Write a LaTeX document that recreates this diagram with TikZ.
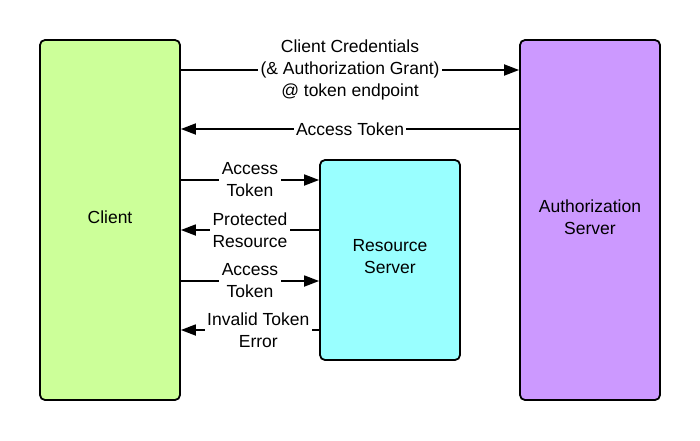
\documentclass[tikz,border=0pt]{standalone}
\usepackage{fontspec}
\setmainfont{Liberation Sans}
\usetikzlibrary{arrows.meta}
\definecolor{clientgreen}{HTML}{CCFF99}
\definecolor{authpurple}{HTML}{CC99FF}
\definecolor{resourcecyan}{HTML}{99FFFF}
\begin{document}
\begin{tikzpicture}[x=1pt,y=-1pt,
  every node/.style={font=\fontsize{17.5}{22}\selectfont},
  party/.style={draw=black,line width=1.8pt,rounded corners=5pt,align=center,inner sep=0pt},
  msg/.style={line width=1.8pt,-{Triangle[length=15pt,width=11pt]}},
  lbl/.style={fill=white,inner sep=2.5pt,align=center}]
\useasboundingbox (0,0) rectangle (700,440);

% the three parties
\node[party,fill=clientgreen,minimum width=140pt,minimum height=360pt] (client) at (110,220) {};
\node[party,fill=authpurple,minimum width=140pt,minimum height=360pt] (auth) at (590,220) {};
\node[party,fill=resourcecyan,minimum width=140pt,minimum height=200pt] (rs) at (390,260) {};
\node[align=center] (clientname) at (110,217) {Client};
\node[align=center] (authname) at (590,217) {Authorization\\Server};
\node[align=center] (rsname) at (390,257) {Resource\\Server};

% token endpoint exchange
\draw[msg] (client.east |- 0,70) -- node[lbl] {Client Credentials\\(\& Authorization Grant)\\@ token endpoint} (auth.west |- 0,70);
\draw[msg] (auth.west |- 0,129) -- node[lbl] {Access Token} (client.east |- 0,129);

% resource requests
\draw[msg] (client.east |- 0,180) -- node[lbl] {Access\\Token} (rs.west |- 0,180);
\draw[msg] (rs.west |- 0,230) -- node[lbl] {Protected\\Resource} (client.east |- 0,230);
\draw[msg] (client.east |- 0,281) -- node[lbl] {Access\\Token} (rs.west |- 0,281);
\draw[msg] (rs.west |- 0,330) -- node[lbl,pos=0.44] {Invalid Token\\Error} (client.east |- 0,330);
\end{tikzpicture}
\end{document}
